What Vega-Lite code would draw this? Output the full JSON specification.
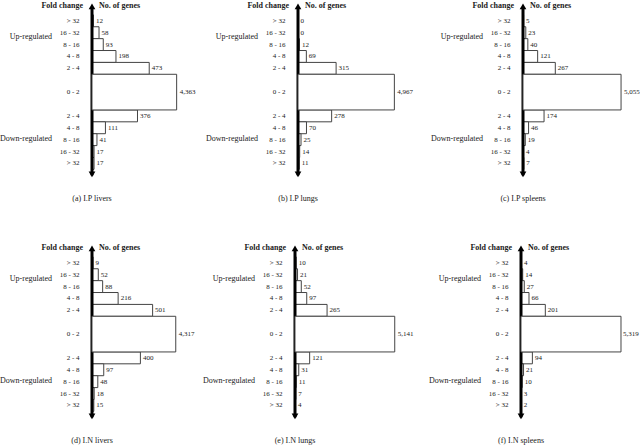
{
"$schema": "https://vega.github.io/schema/vega-lite/v6.json",
"padding": {"left": 0, "top": 1, "right": 0, "bottom": 0},
"spacing": 38,
"config": {"view": {"stroke": null}, "text": {"font": "Liberation Serif", "fontSize": 7, "color": "#1a1a1a", "baseline": "middle"}},
"datasets": {"genes": [
{"p":"a","row":"u5","fold":"> 32","n":12},{"p":"a","row":"u4","fold":"16 - 32","n":58},{"p":"a","row":"u3","fold":"8 - 16","n":93},{"p":"a","row":"u2","fold":"4 - 8","n":198},{"p":"a","row":"u1","fold":"2 - 4","n":473},{"p":"a","row":"c","fold":"0 - 2","n":4363},{"p":"a","row":"d1","fold":"2 - 4","n":376},{"p":"a","row":"d2","fold":"4 - 8","n":111},{"p":"a","row":"d3","fold":"8 - 16","n":41},{"p":"a","row":"d4","fold":"16 - 32","n":17},{"p":"a","row":"d5","fold":"> 32","n":17},
{"p":"b","row":"u5","fold":"> 32","n":0},{"p":"b","row":"u4","fold":"16 - 32","n":0},{"p":"b","row":"u3","fold":"8 - 16","n":12},{"p":"b","row":"u2","fold":"4 - 8","n":69},{"p":"b","row":"u1","fold":"2 - 4","n":315},{"p":"b","row":"c","fold":"0 - 2","n":4967},{"p":"b","row":"d1","fold":"2 - 4","n":278},{"p":"b","row":"d2","fold":"4 - 8","n":70},{"p":"b","row":"d3","fold":"8 - 16","n":25},{"p":"b","row":"d4","fold":"16 - 32","n":14},{"p":"b","row":"d5","fold":"> 32","n":11},
{"p":"c","row":"u5","fold":"> 32","n":5},{"p":"c","row":"u4","fold":"16 - 32","n":23},{"p":"c","row":"u3","fold":"8 - 16","n":40},{"p":"c","row":"u2","fold":"4 - 8","n":121},{"p":"c","row":"u1","fold":"2 - 4","n":267},{"p":"c","row":"c","fold":"0 - 2","n":5055},{"p":"c","row":"d1","fold":"2 - 4","n":174},{"p":"c","row":"d2","fold":"4 - 8","n":46},{"p":"c","row":"d3","fold":"8 - 16","n":19},{"p":"c","row":"d4","fold":"16 - 32","n":4},{"p":"c","row":"d5","fold":"> 32","n":7},
{"p":"d","row":"u5","fold":"> 32","n":9},{"p":"d","row":"u4","fold":"16 - 32","n":52},{"p":"d","row":"u3","fold":"8 - 16","n":88},{"p":"d","row":"u2","fold":"4 - 8","n":216},{"p":"d","row":"u1","fold":"2 - 4","n":501},{"p":"d","row":"c","fold":"0 - 2","n":4317},{"p":"d","row":"d1","fold":"2 - 4","n":400},{"p":"d","row":"d2","fold":"4 - 8","n":97},{"p":"d","row":"d3","fold":"8 - 16","n":48},{"p":"d","row":"d4","fold":"16 - 32","n":18},{"p":"d","row":"d5","fold":"> 32","n":15},
{"p":"e","row":"u5","fold":"> 32","n":10},{"p":"e","row":"u4","fold":"16 - 32","n":21},{"p":"e","row":"u3","fold":"8 - 16","n":52},{"p":"e","row":"u2","fold":"4 - 8","n":97},{"p":"e","row":"u1","fold":"2 - 4","n":265},{"p":"e","row":"c","fold":"0 - 2","n":5141},{"p":"e","row":"d1","fold":"2 - 4","n":121},{"p":"e","row":"d2","fold":"4 - 8","n":31},{"p":"e","row":"d3","fold":"8 - 16","n":11},{"p":"e","row":"d4","fold":"16 - 32","n":7},{"p":"e","row":"d5","fold":"> 32","n":4},
{"p":"f","row":"u5","fold":"> 32","n":4},{"p":"f","row":"u4","fold":"16 - 32","n":14},{"p":"f","row":"u3","fold":"8 - 16","n":27},{"p":"f","row":"u2","fold":"4 - 8","n":66},{"p":"f","row":"u1","fold":"2 - 4","n":201},{"p":"f","row":"c","fold":"0 - 2","n":5319},{"p":"f","row":"d1","fold":"2 - 4","n":94},{"p":"f","row":"d2","fold":"4 - 8","n":21},{"p":"f","row":"d3","fold":"8 - 16","n":10},{"p":"f","row":"d4","fold":"16 - 32","n":3},{"p":"f","row":"d5","fold":"> 32","n":2}
]},
"vconcat": [
{"hconcat": [
{"width": 206, "height": 202, "resolve": {"scale": {"x": "independent"}}, "layer": [
 {"layer": [
  {"data": {"name": "genes"}, "transform": [{"filter": "datum.p == 'a' && datum.row != 'c'"}], "mark": {"type": "bar", "fill": "white", "stroke": "#444", "strokeWidth": 1},
   "encoding": {"x": {"field": "n", "type": "quantitative", "scale": {"domain": [-702.5, 1000], "nice": false, "zero": false}, "axis": null},
    "y": {"field": "row", "type": "ordinal", "scale": {"type": "band", "domain": ["top","u5","u4","u3","u2","u1","p1","c","p2","d1","d2","d3","d4","d5","bottom","gap","cap"], "paddingInner": 0, "paddingOuter": 0}, "axis": null}}},
  {"data": {"name": "genes"}, "transform": [{"filter": "datum.p == 'a' && datum.row != 'c'"}], "mark": {"type": "text", "align": "left", "dx": 2.5},
   "encoding": {"x": {"field": "n", "type": "quantitative"}, "y": {"field": "row", "type": "ordinal"}, "text": {"field": "n", "type": "quantitative", "format": ","}}},
  {"data": {"name": "genes"}, "transform": [{"filter": "datum.p == 'a'"}], "mark": {"type": "text", "align": "right", "dx": -12.5},
   "encoding": {"x": {"datum": 0}, "y": {"field": "row", "type": "ordinal"}, "text": {"field": "fold"}}},
  {"data": {"values": [{}]}, "mark": {"type": "rule", "strokeWidth": 3, "color": "black"}, "encoding": {"x": {"datum": 0}, "y": {"datum": "top", "type": "ordinal"}, "y2": {"datum": "bottom"}}},
  {"data": {"values": [{}]}, "mark": {"type": "point", "shape": "triangle-up", "filled": true, "size": 45, "color": "black", "opacity": 1, "yOffset": -2.5}, "encoding": {"x": {"datum": 0}, "y": {"datum": "top", "type": "ordinal"}}},
  {"data": {"values": [{}]}, "mark": {"type": "point", "shape": "triangle-down", "filled": true, "size": 45, "color": "black", "opacity": 1, "yOffset": -1}, "encoding": {"x": {"datum": 0}, "y": {"datum": "bottom", "type": "ordinal"}}},
  {"data": {"values": [{"t": "Fold change"}]}, "mark": {"type": "text", "align": "right", "dx": -9, "dy": -3, "fontWeight": "bold", "fontSize": 8}, "encoding": {"x": {"datum": 0}, "y": {"datum": "top", "type": "ordinal"}, "text": {"field": "t"}}},
  {"data": {"values": [{"t": "No. of genes"}]}, "mark": {"type": "text", "align": "left", "dx": 7, "dy": -3, "fontWeight": "bold", "fontSize": 8}, "encoding": {"x": {"datum": 0}, "y": {"datum": "top", "type": "ordinal"}, "text": {"field": "t"}}},
  {"data": {"values": [{"t": "Up-regulated"}]}, "mark": {"type": "text", "align": "right", "dx": -40, "dy": 4, "fontSize": 8}, "encoding": {"x": {"datum": 0}, "y": {"datum": "u4", "type": "ordinal"}, "text": {"field": "t"}}},
  {"data": {"values": [{"t": "Down-regulated"}]}, "mark": {"type": "text", "align": "right", "dx": -40, "dy": -1, "fontSize": 8}, "encoding": {"x": {"datum": 0}, "y": {"datum": "d3", "type": "ordinal"}, "text": {"field": "t"}}},
  {"data": {"values": [{"t": "(a) I.P livers"}]}, "mark": {"type": "text", "align": "center", "fontSize": 8}, "encoding": {"x": {"datum": 0}, "y": {"datum": "cap", "type": "ordinal"}, "text": {"field": "t"}}}
 ]},
 {"data": {"name": "genes"}, "transform": [{"filter": "datum.p == 'a' && datum.row == 'c'"}],
  "encoding": {"x": {"field": "n", "type": "quantitative", "scale": {"domain": [-4381, 6237], "nice": false, "zero": false}, "axis": null}, "y": {"field": "row", "type": "ordinal"}},
  "layer": [
   {"mark": {"type": "bar", "height": {"band": 3}, "fill": "white", "stroke": "#444", "strokeWidth": 1}},
   {"mark": {"type": "text", "align": "left", "dx": 3}, "encoding": {"text": {"field": "n", "type": "quantitative", "format": ","}}}
  ]}
]},
{"width": 225, "height": 202, "resolve": {"scale": {"x": "independent"}}, "layer": [
 {"layer": [
  {"data": {"name": "genes"}, "transform": [{"filter": "datum.p == 'b' && datum.row != 'c'"}], "mark": {"type": "bar", "fill": "white", "stroke": "#444", "strokeWidth": 1},
   "encoding": {"x": {"field": "n", "type": "quantitative", "scale": {"domain": [-702.5, 1157], "nice": false, "zero": false}, "axis": null},
    "y": {"field": "row", "type": "ordinal", "scale": {"type": "band", "domain": ["top","u5","u4","u3","u2","u1","p1","c","p2","d1","d2","d3","d4","d5","bottom","gap","cap"], "paddingInner": 0, "paddingOuter": 0}, "axis": null}}},
  {"data": {"name": "genes"}, "transform": [{"filter": "datum.p == 'b' && datum.row != 'c'"}], "mark": {"type": "text", "align": "left", "dx": 2.5},
   "encoding": {"x": {"field": "n", "type": "quantitative"}, "y": {"field": "row", "type": "ordinal"}, "text": {"field": "n", "type": "quantitative", "format": ","}}},
  {"data": {"name": "genes"}, "transform": [{"filter": "datum.p == 'b'"}], "mark": {"type": "text", "align": "right", "dx": -12.5},
   "encoding": {"x": {"datum": 0}, "y": {"field": "row", "type": "ordinal"}, "text": {"field": "fold"}}},
  {"data": {"values": [{}]}, "mark": {"type": "rule", "strokeWidth": 3, "color": "black"}, "encoding": {"x": {"datum": 0}, "y": {"datum": "top", "type": "ordinal"}, "y2": {"datum": "bottom"}}},
  {"data": {"values": [{}]}, "mark": {"type": "point", "shape": "triangle-up", "filled": true, "size": 45, "color": "black", "opacity": 1, "yOffset": -2.5}, "encoding": {"x": {"datum": 0}, "y": {"datum": "top", "type": "ordinal"}}},
  {"data": {"values": [{}]}, "mark": {"type": "point", "shape": "triangle-down", "filled": true, "size": 45, "color": "black", "opacity": 1, "yOffset": -1}, "encoding": {"x": {"datum": 0}, "y": {"datum": "bottom", "type": "ordinal"}}},
  {"data": {"values": [{"t": "Fold change"}]}, "mark": {"type": "text", "align": "right", "dx": -9, "dy": -3, "fontWeight": "bold", "fontSize": 8}, "encoding": {"x": {"datum": 0}, "y": {"datum": "top", "type": "ordinal"}, "text": {"field": "t"}}},
  {"data": {"values": [{"t": "No. of genes"}]}, "mark": {"type": "text", "align": "left", "dx": 7, "dy": -3, "fontWeight": "bold", "fontSize": 8}, "encoding": {"x": {"datum": 0}, "y": {"datum": "top", "type": "ordinal"}, "text": {"field": "t"}}},
  {"data": {"values": [{"t": "Up-regulated"}]}, "mark": {"type": "text", "align": "right", "dx": -40, "dy": 4, "fontSize": 8}, "encoding": {"x": {"datum": 0}, "y": {"datum": "u4", "type": "ordinal"}, "text": {"field": "t"}}},
  {"data": {"values": [{"t": "Down-regulated"}]}, "mark": {"type": "text", "align": "right", "dx": -40, "dy": -1, "fontSize": 8}, "encoding": {"x": {"datum": 0}, "y": {"datum": "d3", "type": "ordinal"}, "text": {"field": "t"}}},
  {"data": {"values": [{"t": "(b) I.P lungs"}]}, "mark": {"type": "text", "align": "center", "fontSize": 8}, "encoding": {"x": {"datum": 0}, "y": {"datum": "cap", "type": "ordinal"}, "text": {"field": "t"}}}
 ]},
 {"data": {"name": "genes"}, "transform": [{"filter": "datum.p == 'b' && datum.row == 'c'"}],
  "encoding": {"x": {"field": "n", "type": "quantitative", "scale": {"domain": [-4381, 7216], "nice": false, "zero": false}, "axis": null}, "y": {"field": "row", "type": "ordinal"}},
  "layer": [
   {"mark": {"type": "bar", "height": {"band": 3}, "fill": "white", "stroke": "#444", "strokeWidth": 1}},
   {"mark": {"type": "text", "align": "left", "dx": 3}, "encoding": {"text": {"field": "n", "type": "quantitative", "format": ","}}}
  ]}
]},
{"width": 205, "height": 202, "resolve": {"scale": {"x": "independent"}}, "layer": [
 {"layer": [
  {"data": {"name": "genes"}, "transform": [{"filter": "datum.p == 'c' && datum.row != 'c'"}], "mark": {"type": "bar", "fill": "white", "stroke": "#444", "strokeWidth": 1},
   "encoding": {"x": {"field": "n", "type": "quantitative", "scale": {"domain": [-702.5, 991.7], "nice": false, "zero": false}, "axis": null},
    "y": {"field": "row", "type": "ordinal", "scale": {"type": "band", "domain": ["top","u5","u4","u3","u2","u1","p1","c","p2","d1","d2","d3","d4","d5","bottom","gap","cap"], "paddingInner": 0, "paddingOuter": 0}, "axis": null}}},
  {"data": {"name": "genes"}, "transform": [{"filter": "datum.p == 'c' && datum.row != 'c'"}], "mark": {"type": "text", "align": "left", "dx": 2.5},
   "encoding": {"x": {"field": "n", "type": "quantitative"}, "y": {"field": "row", "type": "ordinal"}, "text": {"field": "n", "type": "quantitative", "format": ","}}},
  {"data": {"name": "genes"}, "transform": [{"filter": "datum.p == 'c'"}], "mark": {"type": "text", "align": "right", "dx": -12.5},
   "encoding": {"x": {"datum": 0}, "y": {"field": "row", "type": "ordinal"}, "text": {"field": "fold"}}},
  {"data": {"values": [{}]}, "mark": {"type": "rule", "strokeWidth": 3, "color": "black"}, "encoding": {"x": {"datum": 0}, "y": {"datum": "top", "type": "ordinal"}, "y2": {"datum": "bottom"}}},
  {"data": {"values": [{}]}, "mark": {"type": "point", "shape": "triangle-up", "filled": true, "size": 45, "color": "black", "opacity": 1, "yOffset": -2.5}, "encoding": {"x": {"datum": 0}, "y": {"datum": "top", "type": "ordinal"}}},
  {"data": {"values": [{}]}, "mark": {"type": "point", "shape": "triangle-down", "filled": true, "size": 45, "color": "black", "opacity": 1, "yOffset": -1}, "encoding": {"x": {"datum": 0}, "y": {"datum": "bottom", "type": "ordinal"}}},
  {"data": {"values": [{"t": "Fold change"}]}, "mark": {"type": "text", "align": "right", "dx": -9, "dy": -3, "fontWeight": "bold", "fontSize": 8}, "encoding": {"x": {"datum": 0}, "y": {"datum": "top", "type": "ordinal"}, "text": {"field": "t"}}},
  {"data": {"values": [{"t": "No. of genes"}]}, "mark": {"type": "text", "align": "left", "dx": 7, "dy": -3, "fontWeight": "bold", "fontSize": 8}, "encoding": {"x": {"datum": 0}, "y": {"datum": "top", "type": "ordinal"}, "text": {"field": "t"}}},
  {"data": {"values": [{"t": "Up-regulated"}]}, "mark": {"type": "text", "align": "right", "dx": -40, "dy": 4, "fontSize": 8}, "encoding": {"x": {"datum": 0}, "y": {"datum": "u4", "type": "ordinal"}, "text": {"field": "t"}}},
  {"data": {"values": [{"t": "Down-regulated"}]}, "mark": {"type": "text", "align": "right", "dx": -40, "dy": -1, "fontSize": 8}, "encoding": {"x": {"datum": 0}, "y": {"datum": "d3", "type": "ordinal"}, "text": {"field": "t"}}},
  {"data": {"values": [{"t": "(c) I.P spleens"}]}, "mark": {"type": "text", "align": "center", "fontSize": 8}, "encoding": {"x": {"datum": 0}, "y": {"datum": "cap", "type": "ordinal"}, "text": {"field": "t"}}}
 ]},
 {"data": {"name": "genes"}, "transform": [{"filter": "datum.p == 'c' && datum.row == 'c'"}],
  "encoding": {"x": {"field": "n", "type": "quantitative", "scale": {"domain": [-4381, 6186], "nice": false, "zero": false}, "axis": null}, "y": {"field": "row", "type": "ordinal"}},
  "layer": [
   {"mark": {"type": "bar", "height": {"band": 3}, "fill": "white", "stroke": "#444", "strokeWidth": 1}},
   {"mark": {"type": "text", "align": "left", "dx": 3}, "encoding": {"text": {"field": "n", "type": "quantitative", "format": ","}}}
  ]}
]}
], "spacing": 0, "bounds": "flush"},
{"hconcat": [
{"width": 203, "height": 202, "resolve": {"scale": {"x": "independent"}}, "layer": [
 {"layer": [
  {"data": {"name": "genes"}, "transform": [{"filter": "datum.p == 'd' && datum.row != 'c'"}], "mark": {"type": "bar", "fill": "white", "stroke": "#444", "strokeWidth": 1},
   "encoding": {"x": {"field": "n", "type": "quantitative", "scale": {"domain": [-702.5, 975.2], "nice": false, "zero": false}, "axis": null},
    "y": {"field": "row", "type": "ordinal", "scale": {"type": "band", "domain": ["top","u5","u4","u3","u2","u1","p1","c","p2","d1","d2","d3","d4","d5","bottom","gap","cap"], "paddingInner": 0, "paddingOuter": 0}, "axis": null}}},
  {"data": {"name": "genes"}, "transform": [{"filter": "datum.p == 'd' && datum.row != 'c'"}], "mark": {"type": "text", "align": "left", "dx": 2.5},
   "encoding": {"x": {"field": "n", "type": "quantitative"}, "y": {"field": "row", "type": "ordinal"}, "text": {"field": "n", "type": "quantitative", "format": ","}}},
  {"data": {"name": "genes"}, "transform": [{"filter": "datum.p == 'd'"}], "mark": {"type": "text", "align": "right", "dx": -12.5},
   "encoding": {"x": {"datum": 0}, "y": {"field": "row", "type": "ordinal"}, "text": {"field": "fold"}}},
  {"data": {"values": [{}]}, "mark": {"type": "rule", "strokeWidth": 3, "color": "black"}, "encoding": {"x": {"datum": 0}, "y": {"datum": "top", "type": "ordinal"}, "y2": {"datum": "bottom"}}},
  {"data": {"values": [{}]}, "mark": {"type": "point", "shape": "triangle-up", "filled": true, "size": 45, "color": "black", "opacity": 1, "yOffset": -2.5}, "encoding": {"x": {"datum": 0}, "y": {"datum": "top", "type": "ordinal"}}},
  {"data": {"values": [{}]}, "mark": {"type": "point", "shape": "triangle-down", "filled": true, "size": 45, "color": "black", "opacity": 1, "yOffset": -1}, "encoding": {"x": {"datum": 0}, "y": {"datum": "bottom", "type": "ordinal"}}},
  {"data": {"values": [{"t": "Fold change"}]}, "mark": {"type": "text", "align": "right", "dx": -9, "dy": -3, "fontWeight": "bold", "fontSize": 8}, "encoding": {"x": {"datum": 0}, "y": {"datum": "top", "type": "ordinal"}, "text": {"field": "t"}}},
  {"data": {"values": [{"t": "No. of genes"}]}, "mark": {"type": "text", "align": "left", "dx": 7, "dy": -3, "fontWeight": "bold", "fontSize": 8}, "encoding": {"x": {"datum": 0}, "y": {"datum": "top", "type": "ordinal"}, "text": {"field": "t"}}},
  {"data": {"values": [{"t": "Up-regulated"}]}, "mark": {"type": "text", "align": "right", "dx": -40, "dy": 4, "fontSize": 8}, "encoding": {"x": {"datum": 0}, "y": {"datum": "u4", "type": "ordinal"}, "text": {"field": "t"}}},
  {"data": {"values": [{"t": "Down-regulated"}]}, "mark": {"type": "text", "align": "right", "dx": -40, "dy": -1, "fontSize": 8}, "encoding": {"x": {"datum": 0}, "y": {"datum": "d3", "type": "ordinal"}, "text": {"field": "t"}}},
  {"data": {"values": [{"t": "(d) I.N livers"}]}, "mark": {"type": "text", "align": "center", "fontSize": 8}, "encoding": {"x": {"datum": 0}, "y": {"datum": "cap", "type": "ordinal"}, "text": {"field": "t"}}}
 ]},
 {"data": {"name": "genes"}, "transform": [{"filter": "datum.p == 'd' && datum.row == 'c'"}],
  "encoding": {"x": {"field": "n", "type": "quantitative", "scale": {"domain": [-4381, 6082], "nice": false, "zero": false}, "axis": null}, "y": {"field": "row", "type": "ordinal"}},
  "layer": [
   {"mark": {"type": "bar", "height": {"band": 3}, "fill": "white", "stroke": "#444", "strokeWidth": 1}},
   {"mark": {"type": "text", "align": "left", "dx": 3}, "encoding": {"text": {"field": "n", "type": "quantitative", "format": ","}}}
  ]}
]},
{"width": 226, "height": 202, "resolve": {"scale": {"x": "independent"}}, "layer": [
 {"layer": [
  {"data": {"name": "genes"}, "transform": [{"filter": "datum.p == 'e' && datum.row != 'c'"}], "mark": {"type": "bar", "fill": "white", "stroke": "#444", "strokeWidth": 1},
   "encoding": {"x": {"field": "n", "type": "quantitative", "scale": {"domain": [-702.5, 1165.3], "nice": false, "zero": false}, "axis": null},
    "y": {"field": "row", "type": "ordinal", "scale": {"type": "band", "domain": ["top","u5","u4","u3","u2","u1","p1","c","p2","d1","d2","d3","d4","d5","bottom","gap","cap"], "paddingInner": 0, "paddingOuter": 0}, "axis": null}}},
  {"data": {"name": "genes"}, "transform": [{"filter": "datum.p == 'e' && datum.row != 'c'"}], "mark": {"type": "text", "align": "left", "dx": 2.5},
   "encoding": {"x": {"field": "n", "type": "quantitative"}, "y": {"field": "row", "type": "ordinal"}, "text": {"field": "n", "type": "quantitative", "format": ","}}},
  {"data": {"name": "genes"}, "transform": [{"filter": "datum.p == 'e'"}], "mark": {"type": "text", "align": "right", "dx": -12.5},
   "encoding": {"x": {"datum": 0}, "y": {"field": "row", "type": "ordinal"}, "text": {"field": "fold"}}},
  {"data": {"values": [{}]}, "mark": {"type": "rule", "strokeWidth": 3, "color": "black"}, "encoding": {"x": {"datum": 0}, "y": {"datum": "top", "type": "ordinal"}, "y2": {"datum": "bottom"}}},
  {"data": {"values": [{}]}, "mark": {"type": "point", "shape": "triangle-up", "filled": true, "size": 45, "color": "black", "opacity": 1, "yOffset": -2.5}, "encoding": {"x": {"datum": 0}, "y": {"datum": "top", "type": "ordinal"}}},
  {"data": {"values": [{}]}, "mark": {"type": "point", "shape": "triangle-down", "filled": true, "size": 45, "color": "black", "opacity": 1, "yOffset": -1}, "encoding": {"x": {"datum": 0}, "y": {"datum": "bottom", "type": "ordinal"}}},
  {"data": {"values": [{"t": "Fold change"}]}, "mark": {"type": "text", "align": "right", "dx": -9, "dy": -3, "fontWeight": "bold", "fontSize": 8}, "encoding": {"x": {"datum": 0}, "y": {"datum": "top", "type": "ordinal"}, "text": {"field": "t"}}},
  {"data": {"values": [{"t": "No. of genes"}]}, "mark": {"type": "text", "align": "left", "dx": 7, "dy": -3, "fontWeight": "bold", "fontSize": 8}, "encoding": {"x": {"datum": 0}, "y": {"datum": "top", "type": "ordinal"}, "text": {"field": "t"}}},
  {"data": {"values": [{"t": "Up-regulated"}]}, "mark": {"type": "text", "align": "right", "dx": -40, "dy": 4, "fontSize": 8}, "encoding": {"x": {"datum": 0}, "y": {"datum": "u4", "type": "ordinal"}, "text": {"field": "t"}}},
  {"data": {"values": [{"t": "Down-regulated"}]}, "mark": {"type": "text", "align": "right", "dx": -40, "dy": -1, "fontSize": 8}, "encoding": {"x": {"datum": 0}, "y": {"datum": "d3", "type": "ordinal"}, "text": {"field": "t"}}},
  {"data": {"values": [{"t": "(e) I.N lungs"}]}, "mark": {"type": "text", "align": "center", "fontSize": 8}, "encoding": {"x": {"datum": 0}, "y": {"datum": "cap", "type": "ordinal"}, "text": {"field": "t"}}}
 ]},
 {"data": {"name": "genes"}, "transform": [{"filter": "datum.p == 'e' && datum.row == 'c'"}],
  "encoding": {"x": {"field": "n", "type": "quantitative", "scale": {"domain": [-4381, 7268], "nice": false, "zero": false}, "axis": null}, "y": {"field": "row", "type": "ordinal"}},
  "layer": [
   {"mark": {"type": "bar", "height": {"band": 3}, "fill": "white", "stroke": "#444", "strokeWidth": 1}},
   {"mark": {"type": "text", "align": "left", "dx": 3}, "encoding": {"text": {"field": "n", "type": "quantitative", "format": ","}}}
  ]}
]},
{"width": 206, "height": 202, "resolve": {"scale": {"x": "independent"}}, "layer": [
 {"layer": [
  {"data": {"name": "genes"}, "transform": [{"filter": "datum.p == 'f' && datum.row != 'c'"}], "mark": {"type": "bar", "fill": "white", "stroke": "#444", "strokeWidth": 1},
   "encoding": {"x": {"field": "n", "type": "quantitative", "scale": {"domain": [-702.5, 1000], "nice": false, "zero": false}, "axis": null},
    "y": {"field": "row", "type": "ordinal", "scale": {"type": "band", "domain": ["top","u5","u4","u3","u2","u1","p1","c","p2","d1","d2","d3","d4","d5","bottom","gap","cap"], "paddingInner": 0, "paddingOuter": 0}, "axis": null}}},
  {"data": {"name": "genes"}, "transform": [{"filter": "datum.p == 'f' && datum.row != 'c'"}], "mark": {"type": "text", "align": "left", "dx": 2.5},
   "encoding": {"x": {"field": "n", "type": "quantitative"}, "y": {"field": "row", "type": "ordinal"}, "text": {"field": "n", "type": "quantitative", "format": ","}}},
  {"data": {"name": "genes"}, "transform": [{"filter": "datum.p == 'f'"}], "mark": {"type": "text", "align": "right", "dx": -12.5},
   "encoding": {"x": {"datum": 0}, "y": {"field": "row", "type": "ordinal"}, "text": {"field": "fold"}}},
  {"data": {"values": [{}]}, "mark": {"type": "rule", "strokeWidth": 3, "color": "black"}, "encoding": {"x": {"datum": 0}, "y": {"datum": "top", "type": "ordinal"}, "y2": {"datum": "bottom"}}},
  {"data": {"values": [{}]}, "mark": {"type": "point", "shape": "triangle-up", "filled": true, "size": 45, "color": "black", "opacity": 1, "yOffset": -2.5}, "encoding": {"x": {"datum": 0}, "y": {"datum": "top", "type": "ordinal"}}},
  {"data": {"values": [{}]}, "mark": {"type": "point", "shape": "triangle-down", "filled": true, "size": 45, "color": "black", "opacity": 1, "yOffset": -1}, "encoding": {"x": {"datum": 0}, "y": {"datum": "bottom", "type": "ordinal"}}},
  {"data": {"values": [{"t": "Fold change"}]}, "mark": {"type": "text", "align": "right", "dx": -9, "dy": -3, "fontWeight": "bold", "fontSize": 8}, "encoding": {"x": {"datum": 0}, "y": {"datum": "top", "type": "ordinal"}, "text": {"field": "t"}}},
  {"data": {"values": [{"t": "No. of genes"}]}, "mark": {"type": "text", "align": "left", "dx": 7, "dy": -3, "fontWeight": "bold", "fontSize": 8}, "encoding": {"x": {"datum": 0}, "y": {"datum": "top", "type": "ordinal"}, "text": {"field": "t"}}},
  {"data": {"values": [{"t": "Up-regulated"}]}, "mark": {"type": "text", "align": "right", "dx": -40, "dy": 4, "fontSize": 8}, "encoding": {"x": {"datum": 0}, "y": {"datum": "u4", "type": "ordinal"}, "text": {"field": "t"}}},
  {"data": {"values": [{"t": "Down-regulated"}]}, "mark": {"type": "text", "align": "right", "dx": -40, "dy": -1, "fontSize": 8}, "encoding": {"x": {"datum": 0}, "y": {"datum": "d3", "type": "ordinal"}, "text": {"field": "t"}}},
  {"data": {"values": [{"t": "(f) I.N spleens"}]}, "mark": {"type": "text", "align": "center", "fontSize": 8}, "encoding": {"x": {"datum": 0}, "y": {"datum": "cap", "type": "ordinal"}, "text": {"field": "t"}}}
 ]},
 {"data": {"name": "genes"}, "transform": [{"filter": "datum.p == 'f' && datum.row == 'c'"}],
  "encoding": {"x": {"field": "n", "type": "quantitative", "scale": {"domain": [-4521, 6436], "nice": false, "zero": false}, "axis": null}, "y": {"field": "row", "type": "ordinal"}},
  "layer": [
   {"mark": {"type": "bar", "height": {"band": 3}, "fill": "white", "stroke": "#444", "strokeWidth": 1}},
   {"mark": {"type": "text", "align": "left", "dx": 2}, "encoding": {"text": {"field": "n", "type": "quantitative", "format": ","}}}
  ]}
]}
], "spacing": 0, "bounds": "flush"}
]
}
